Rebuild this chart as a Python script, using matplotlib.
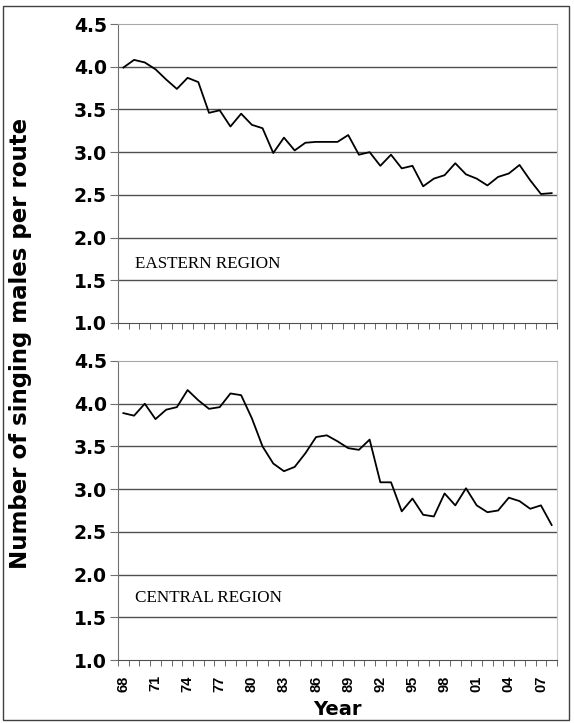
import matplotlib
matplotlib.use("Agg")
import matplotlib.pyplot as plt
from matplotlib.patches import Rectangle

years = list(range(1968, 2009))
eastern = [3.99, 4.08, 4.05, 3.97, 3.85, 3.74, 3.87, 3.82, 3.46, 3.49,
           3.30, 3.45, 3.32, 3.28, 2.99, 3.17, 3.02, 3.11, 3.12, 3.12,
           3.12, 3.20, 2.97, 3.00, 2.84, 2.97, 2.81, 2.84, 2.60, 2.69,
           2.73, 2.87, 2.74, 2.69, 2.61, 2.71, 2.75, 2.85, 2.67, 2.51,
           2.52]
central = [3.89, 3.86, 4.00, 3.82, 3.93, 3.96, 4.16, 4.04, 3.94, 3.96,
           4.12, 4.10, 3.83, 3.50, 3.30, 3.21, 3.26, 3.42, 3.61, 3.63,
           3.56, 3.48, 3.46, 3.58, 3.08, 3.08, 2.74, 2.89, 2.70, 2.68,
           2.95, 2.81, 3.01, 2.81, 2.73, 2.75, 2.90, 2.86, 2.77, 2.81,
           2.58]
label_years = list(range(1968, 2009, 3))
y_ticks = [1.0, 1.5, 2.0, 2.5, 3.0, 3.5, 4.0, 4.5]

plt.rcParams['font.family'] = ['Liberation Sans', 'DejaVu Sans']

W, H = 574, 723
fig = plt.figure(figsize=(W / 100, H / 100), dpi=100)


def panel(top, series, name, name_y, show_labels):
    ax = fig.add_axes([118 / W, 1 - (top + 299) / H, 439 / W, 299 / H])
    ax.plot(years, series, color='black', lw=1.3)
    ax.set_xlim(1967.5, 2008.5)
    ax.set_ylim(1.0, 4.5)
    ax.set_yticks(y_ticks)
    ax.set_yticklabels([f"{v:.1f}" for v in y_ticks], fontsize=13.5,
                       fontweight='bold', family='DejaVu Sans')
    for v in y_ticks[1:-1]:
        ax.axhline(v, color='#505050', lw=1.0, zorder=1)
    ax.spines['top'].set_color('#a8a8a8')
    ax.spines['right'].set_color('#c8c8c8')
    ax.spines['left'].set_color('#707070')
    ax.spines['bottom'].set_color('#505050')
    ax.tick_params(axis='y', length=6, color='#707070', pad=2)
    ax.set_xticks([y - 0.5 for y in years] + [2008.5], minor=True)
    ax.tick_params(axis='x', which='minor', length=4, color='#505050')
    ax.set_xticks(label_years)
    if show_labels:
        ax.set_xticklabels([f"{y % 100:02d}" for y in label_years], rotation=90,
                           fontsize=10.5, fontweight='bold')
    else:
        ax.set_xticklabels([])
    ax.tick_params(axis='x', which='major', length=0, pad=11)
    ax.text(0.039, name_y, name, transform=ax.transAxes, fontsize=12.3,
            family='Liberation Serif', va='center', ha='left')
    return ax


panel(24, eastern, "EASTERN REGION", 0.197, False)
ax2 = panel(361, central, "CENTRAL REGION", 0.207, True)
ax2.set_xlabel("Year", fontsize=14, fontweight='bold', family='DejaVu Sans',
               labelpad=6)
fig.text(21 / W, 1 - 343 / H, "Number of singing males per route", rotation=90,
         fontsize=16.5, fontweight='bold', family='DejaVu Sans',
         ha='center', va='center')

fig.patches.append(Rectangle((3 / W, 3 / H), 566 / W, 714 / H, transform=fig.transFigure,
                             fill=False, edgecolor='#404040', lw=1.0))

fig.savefig("out.png", dpi=100)
